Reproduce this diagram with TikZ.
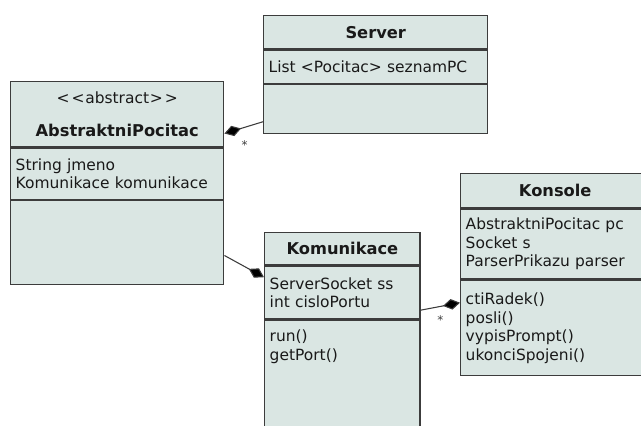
\documentclass[tikz,border=0pt]{standalone}
\usepackage{fontspec}
\setmainfont{DejaVu Sans}
\usetikzlibrary{arrows.meta}

\definecolor{umlfill}{RGB}{218,230,227}
\definecolor{umlline}{RGB}{60,60,60}
\definecolor{umltext}{RGB}{25,25,25}

\tikzset{
  umlpart/.style={draw=umlline, fill=umlfill, line width=1.1pt, anchor=north west,
    inner xsep=3.75pt, inner ysep=0pt, align=left, text=umltext,
    font=\fontsize{11.6}{13.9}\selectfont},
  umltitle/.style={umlpart, align=center, font=\fontsize{12.2}{14}\selectfont\bfseries},
  compos/.style={draw=umlline, line width=0.8pt, -{Diamond[length=13pt,width=8pt,fill=black]}},
  mult/.style={font=\fontsize{9}{9}\selectfont, inner sep=0pt, text=umlline}
}

\begin{document}
\begin{tikzpicture}[x=0.75pt,y=0.75pt,yscale=-1,xscale=1]
    \clip (0,0) rectangle (641,425);

    % Class AbstraktniPocitac
    \node[umltitle, text width=152.25pt, minimum height=49pt] (ab-title) at (10,80.7)
      {{\mdseries\fontsize{11.6}{13.9}\selectfont <\kern1.5pt<\kern0.5pt abstract\kern0.5pt>\kern1.5pt>}\\[10.75pt]AbstraktniPocitac};
    \node[umlpart, text width=152.25pt, minimum height=38.25pt] (ab-attr) at (ab-title.south west)
      {String jmeno\\Komunikace komunikace};
    \node[umlpart, text width=152.25pt, minimum height=62.8pt] (ab-ops) at (ab-attr.south west) {};

    % Class Server
    \node[umltitle, text width=160.5pt, minimum height=25pt] (srv-title) at (263,14.7) {Server};
    \node[umlpart, text width=160.5pt, minimum height=24.75pt] (srv-attr) at (srv-title.south west)
      {List <Pocitac> seznamPC};
    \node[umlpart, text width=160.5pt, minimum height=36.75pt] (srv-ops) at (srv-attr.south west) {};

    % Class Komunikace
    \node[umltitle, text width=109pt, minimum height=24.2pt] (kom-title) at (264,231.7) {Komunikace};
    \node[umlpart, text width=109pt, minimum height=39.75pt] (kom-attr) at (kom-title.south west)
      {ServerSocket ss\\int cisloPortu};
    \node[umlpart, text width=109pt, text height=15.75pt, text depth=90pt] (kom-ops) at (kom-attr.south west)
      {run()\\getPort()};

    % Class Konsole
    \node[umltitle, text width=134.25pt, minimum height=25.5pt] (kon-title) at (460,172.7) {Konsole};
    \node[umlpart, text width=134.25pt, minimum height=52.5pt] (kon-attr) at (kon-title.south west)
      {AbstraktniPocitac pc\\Socket s\\ParserPrikazu parser};
    \node[umlpart, text width=134.25pt, minimum height=71.5pt] (kon-ops) at (kon-attr.south west)
      {ctiRadek()\\posli()\\vypisPrompt()\\ukonciSpojeni()};

    % Composition links (yshift is flipped by yscale=-1)
    \draw[compos] ([yshift=9.4pt]srv-ops.west) -- ([yshift=-10.5pt]ab-title.south east)
      node[mult, pos=0.48, yshift=-13pt] {*};
    \draw[compos] ([yshift=9.7pt]ab-ops.east) -- ([yshift=-11.6pt]kom-attr.west);
    \draw[compos] ([yshift=13.1pt]kom-attr.east) -- ([yshift=-19pt]kon-ops.west)
      node[mult, pos=0.5, yshift=-10pt] {*};

\end{tikzpicture}
\end{document}
